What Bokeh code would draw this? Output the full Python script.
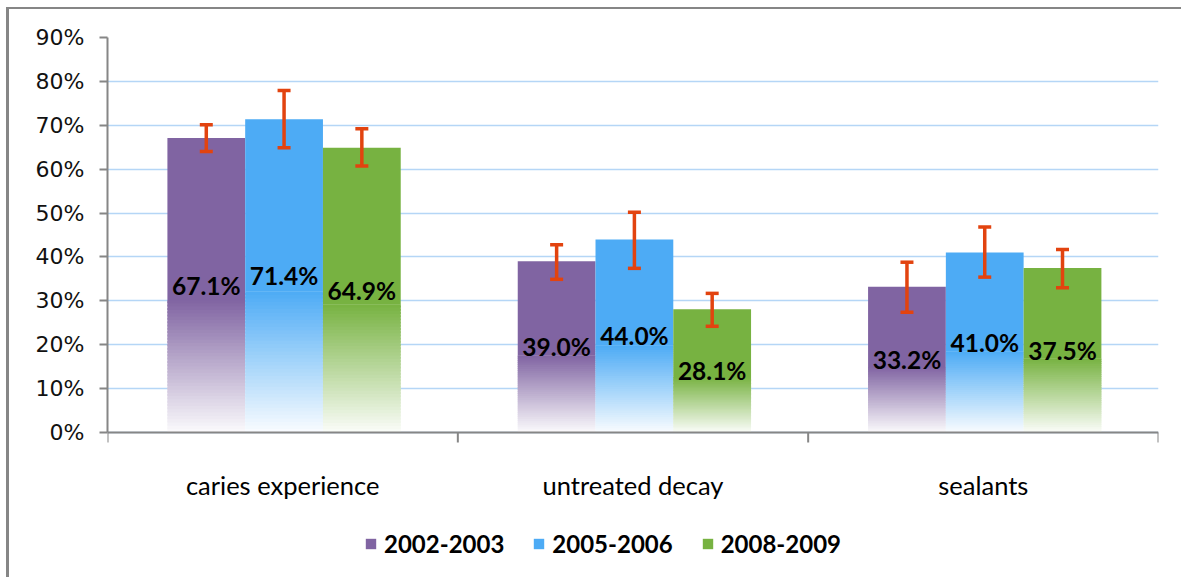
import numpy as np
from bokeh.plotting import figure
from bokeh.models import (ColumnDataSource, Range1d, FixedTicker, PrintfTickFormatter,
                          Whisker, TeeHead, Legend, LegendItem, Span)
from bokeh.core.properties import value
from bokeh.embed import file_html
from bokeh.resources import INLINE

# ---------------- data ----------------
categories = ["caries experience", "untreated decay", "sealants"]
series = ["2002-2003", "2005-2006", "2008-2009"]
values_2002 = [67.1, 39.0, 33.2]
values_2005 = [71.4, 44.0, 41.0]
values_2008 = [64.9, 28.1, 37.5]
lower_2002 = [64.0, 34.9, 27.4]
upper_2002 = [70.1, 42.8, 38.8]
lower_2005 = [64.9, 37.4, 35.4]
upper_2005 = [77.9, 50.2, 46.8]
lower_2008 = [60.7, 24.2, 33.0]
upper_2008 = [69.2, 31.7, 41.7]
y_ticks = [0, 10, 20, 30, 40, 50, 60, 70, 80, 90]

# ---------------- style / layout ----------------
colors = ["#8064a2", "#4dabf5", "#77b241"]
err_color = "#e2430f"
axis_color = "#868686"
grid_color = "#b5d6f6"
bar_w = 0.222
group_center = 0.504
grad_frac = 0.45
n_strips = 40
y_max = 90
plot_px = 395          # pixels from 0% to 90%
below_px = 145         # pixels below the 0% line (axis labels + legend area)
px = y_max / plot_px   # data units per pixel
y_min = -below_px * px

all_values = [values_2002, values_2005, values_2008]
all_lower = [lower_2002, lower_2005, lower_2008]
all_upper = [upper_2002, upper_2005, upper_2008]

p = figure(frame_width=1051, frame_height=plot_px + below_px, output_backend="svg",
           toolbar_location=None,
           x_range=Range1d(0, len(categories)), y_range=Range1d(y_min, y_max),
           min_border_left=98, min_border_top=28, min_border_right=23,
           min_border_bottom=0)
p.styles = {"border-top": "2px solid #868686", "border-left": "3px solid #868686",
            "margin-left": "6px", "margin-top": "7px"}
p.outline_line_color = None
p.background_fill_color = "white"
p.border_fill_color = "white"

p.xgrid.visible = False
p.ygrid.ticker = FixedTicker(ticks=y_ticks)
p.ygrid.grid_line_color = grid_color
p.ygrid.grid_line_width = 1.5


def mix(hexcol, t):
    r = int(hexcol[1:3], 16); g = int(hexcol[3:5], 16); b = int(hexcol[5:7], 16)
    r = round(255 + (r - 255) * t); g = round(255 + (g - 255) * t); b = round(255 + (b - 255) * t)
    return "#%02x%02x%02x" % (r, g, b)


legend_items = []
for j, (vals, lo, up) in enumerate(zip(all_values, all_lower, all_upper)):
    xs = [i + group_center + (j - 1) * bar_w for i in range(len(categories))]
    # gradient strips (bottom part of bars)
    sl, sr, sb, st, sc = [], [], [], [], []
    for x, v in zip(xs, vals):
        h = v * grad_frac
        for k in range(n_strips):
            sl.append(x - bar_w / 2); sr.append(x + bar_w / 2)
            sb.append(h * k / n_strips)
            st.append(min(h * (k + 1.6) / n_strips, h))
            sc.append(mix(colors[j], 0.03 + 0.97 * (k + 0.5) / n_strips))
    p.quad(left=sl, right=sr, bottom=sb, top=st, fill_color=sc, line_color=None)
    # solid upper part
    src = ColumnDataSource(dict(
        left=[x - bar_w / 2 for x in xs], right=[x + bar_w / 2 for x in xs],
        bottom=[v * grad_frac - 0.05 for v in vals], top=vals))
    r = p.quad(left="left", right="right", bottom="bottom", top="top", source=src,
               fill_color=colors[j], line_color=None)
    legend_items.append(LegendItem(label=series[j], renderers=[r]))
    # error bars
    esrc = ColumnDataSource(dict(x=xs, lower=lo, upper=up))
    w = Whisker(base="x", lower="lower", upper="upper", source=esrc, level="overlay",
                line_color=err_color, line_width=3.5,
                upper_head=TeeHead(size=13, line_color=err_color, line_width=3.5),
                lower_head=TeeHead(size=13, line_color=err_color, line_width=3.5))
    p.add_layout(w)
    # data labels
    p.text(x=xs, y=[v / 2 for v in vals], text=["%.1f%%" % v for v in vals],
           text_align="center", text_baseline="middle",
           text_font=value("Lato"), text_font_style="bold", text_font_size="24.5px",
           text_color="black")

# y axis (line limited to 0..90%)
p.yaxis.ticker = FixedTicker(ticks=y_ticks)
p.yaxis.bounds = (0, y_max)
p.yaxis.formatter = PrintfTickFormatter(format="%d%%")
p.yaxis.axis_line_color = axis_color
p.yaxis.axis_line_width = 2
p.yaxis.major_tick_line_color = axis_color
p.yaxis.major_tick_line_width = 2
p.yaxis.major_tick_out = 8
p.yaxis.major_tick_in = 0
p.yaxis.minor_tick_line_color = None
p.yaxis.major_label_text_font = "DejaVu Sans"
p.yaxis.major_label_text_font_size = "22px"
p.yaxis.major_label_text_color = "#111111"
p.yaxis.major_label_standoff = 15

# category axis drawn at the 0% line
p.xaxis.visible = False
p.add_layout(Span(location=0, dimension="width", line_color=axis_color, line_width=2))
boundaries = list(range(len(categories) + 1))
p.segment(x0=boundaries, y0=[0] * len(boundaries), x1=boundaries,
          y1=[-10 * px] * len(boundaries), line_color=axis_color, line_width=2)
centers = [i + 0.5 for i in range(len(categories))]
p.text(x=centers, y=[-52 * px] * len(centers), text=categories,
       text_align="center", text_baseline="middle",
       text_font=value("Lato"), text_font_size="25.5px", text_color="black")

legend = Legend(items=legend_items, orientation="horizontal", location=(257, 19),
                glyph_width=13, glyph_height=13, label_standoff=7, spacing=28,
                label_text_font="Lato", label_text_font_style="bold",
                label_text_font_size="24px", label_text_color="black",
                border_line_color=None,
                background_fill_alpha=0, padding=10, margin=0)
p.add_layout(legend, "center")

open("out.html", "w").write(file_html(p, INLINE))
